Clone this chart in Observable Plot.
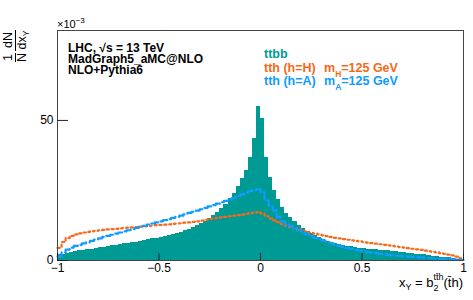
<!DOCTYPE html>
<html>
<head>
<meta charset="utf-8">
<script src="https://cdn.jsdelivr.net/npm/d3@7"></script>
<script src="https://cdn.jsdelivr.net/npm/@observablehq/plot@0.6"></script>
<style>
  html, body { margin: 0; padding: 0; background: #fff; }
  svg { display: block; }
</style>
</head>
<body>
<div id="chart"></div>
<script>
// ---- data ----
const binLow = -1, binWidth = 0.02;           // 100 bins on [-1, 1]
const ttbb = [
  2.0,2.3,2.6,2.9,3.1,3.4,3.6,3.8,4.0,4.3,4.5,4.8,5.0,5.2,5.4,5.6,5.9,6.1,6.3,6.6,
  6.8,7.1,7.4,7.7,8.0,8.3,8.6,8.9,9.3,9.7,10.1,10.6,11.2,11.8,12.5,13.3,14.0,14.9,16.0,17.3,
  18.4,20.0,22.0,24.0,26.4,29.2,32.1,36.7,43.6,55.0,
  50.7,36.8,29.8,25.0,21.8,19.0,16.9,15.5,14.0,12.5,11.3,10.5,9.5,8.9,8.1,7.4,6.9,6.4,6.0,5.7,
  5.4,5.1,4.9,4.6,4.4,4.2,4.0,3.9,3.8,3.6,3.5,3.4,3.2,3.1,2.9,2.8,2.6,2.5,2.3,2.2,
  2.0,1.8,1.6,1.4,1.2,1.0,0.9,0.7,0.5,0.3
];
const tthH = [
  4.5,6.6,8.0,8.8,9.3,9.7,10.0,10.2,10.4,10.6,10.8,10.9,11.1,11.2,11.3,11.5,11.6,11.7,11.8,11.9,
  12.1,12.2,12.3,12.5,12.6,12.7,12.8,12.9,13.1,13.2,13.3,13.5,13.6,13.8,14.0,14.2,14.5,14.8,15.0,15.2,
  15.4,15.6,15.8,16.0,16.2,16.4,16.6,16.9,17.1,17.3,
  16.8,15.8,15.0,14.3,13.7,13.0,12.4,11.9,11.4,11.0,10.6,10.2,9.9,9.6,9.3,9.0,8.7,8.4,8.1,7.9,
  7.6,7.4,7.2,7.0,6.8,6.6,6.4,6.2,6.0,5.8,5.6,5.4,5.2,5.0,4.8,4.6,4.4,4.2,4.0,3.8,
  3.5,3.3,3.1,2.9,2.6,2.4,2.1,1.8,1.4,0.8
];
const tthA = [
  1.5,2.9,3.9,4.6,5.2,5.6,6.1,6.5,7.0,7.5,7.9,8.4,8.8,9.2,9.6,10.0,10.4,10.8,11.2,11.6,
  12.0,12.4,12.8,13.2,13.6,14.0,14.4,14.8,15.2,15.6,16.0,16.5,17.0,17.4,17.8,18.3,18.8,19.3,19.8,20.3,
  20.8,21.3,21.8,22.4,23.0,23.6,24.2,24.8,25.2,25.4,
  24.4,21.4,19.6,17.9,15.5,14.0,13.0,12.3,11.4,10.7,9.9,9.3,8.7,8.1,7.6,7.1,6.6,6.1,5.6,5.2,
  4.8,4.4,4.1,3.8,3.5,3.2,3.0,2.8,2.6,2.4,2.2,2.0,1.8,1.7,1.6,1.5,1.4,1.3,1.2,1.1,
  1.0,0.9,0.8,0.7,0.6,0.55,0.5,0.4,0.3,0.2
];
const xTicks = [-1, -0.5, 0, 0.5, 1];
const xTickLabels = ["\u22121", "\u22120.5", "0", "0.5", "1"];
const yTicks = [0, 50];
const yMax = 82.1;
const infoLines = ["LHC, \u221As = 13 TeV", "MadGraph5_aMC@NLO", "NLO+Pythia6"];
const legendNames = ["ttbb", "tth (h=H)", "tth (h=A)"];
const legendMass = [null, ["m", "H", "=125 GeV"], ["m", "A", "=125 GeV"]];
const colors = ["#009a94", "#f8681a", "#0f9bff"];

// ---- build tables ----
const edges = ttbb.map((_, i) => binLow + i * binWidth);
const ttbbRows = ttbb.map((v, i) => ({x1: edges[i], x2: edges[i] + binWidth, v}));
const stepRows = vals => vals.map((v, i) => ({x: edges[i], v})).concat([{x: edges[vals.length - 1] + binWidth, v: vals[vals.length - 1]}]);

const font = "'Liberation Sans', Arial, Helvetica, sans-serif";

const chart = Plot.plot({
  width: 473, height: 300,
  marginLeft: 57, marginRight: 10, marginTop: 30, marginBottom: 40,
  x: {domain: [-1, 1], label: null},
  y: {domain: [0, yMax], label: null},
  style: {fontFamily: font, fontSize: "12px", background: "white", color: "#000"},
  marks: [
    Plot.rectY(ttbbRows, {x1: "x1", x2: "x2", y: "v", fill: colors[0], shapeRendering: "crispEdges"}),
    Plot.line(stepRows(tthH), {x: "x", y: "v", curve: "step-after", stroke: colors[1], strokeWidth: 2.2, strokeDasharray: "2.2,3"}),
    Plot.line(stepRows(tthA), {x: "x", y: "v", curve: "step-after", stroke: colors[2], strokeWidth: 2.2, strokeDasharray: "8,3.5"}),
    Plot.frame({stroke: "#444", strokeWidth: 1}),
    Plot.ruleX(xTicks, {y1: 0, y2: yMax * 0.03, stroke: "#222"}),
    Plot.ruleY(yTicks, {x1: -1, x2: -1 + 2 * 0.027, stroke: "#222"}),
    Plot.axisX({ticks: xTicks, tickSize: 0, tickPadding: 3, tickFormat: (d, i) => xTickLabels[i], fontSize: 12}),
    Plot.axisY({ticks: yTicks, tickSize: 0, tickPadding: 4, fontSize: 12})
  ]
});
document.getElementById("chart").appendChild(chart);

const svg = d3.select(chart);
const g = svg.append("g").attr("font-family", font).attr("text-anchor", "start");

// x10^-3 exponent
const ex = g.append("text").attr("x", 57).attr("y", 28).attr("font-size", 11).text("\u00d710");
ex.append("tspan").attr("font-size", 8).attr("dy", -5).text("\u22123");

// info lines (bold)
infoLines.forEach((t, i) => {
  g.append("text").attr("x", 68).attr("y", 52 + i * 11).attr("font-size", 12).attr("font-weight", "bold").text(t);
});

// legend texts
legendNames.forEach((t, i) => {
  g.append("text").attr("x", 264).attr("y", 58 + i * 13.5).attr("font-size", 12.5).attr("font-weight", "bold")
    .attr("fill", colors[i]).text(t);
  const m = legendMass[i];
  if (m) {
    const tx = g.append("text").attr("x", 324).attr("y", 58 + i * 13.5).attr("font-size", 12.5).attr("font-weight", "bold")
      .attr("fill", colors[i]);
    tx.append("tspan").text(m[0]);
    tx.append("tspan").attr("font-size", 8.5).attr("dy", 5).text(m[1]);
    tx.append("tspan").attr("dy", -5).text(m[2]);
  }
});

// y-axis title: (1/N) dN/dx_Y rotated
const yl = g.append("g").attr("font-size", 12.5).attr("text-anchor", "middle");
yl.append("text").attr("transform", "translate(12,57.5) rotate(-90)").text("1");
yl.append("text").attr("transform", "translate(26,57.5) rotate(-90)").text("N");
yl.append("line").attr("x1", 15.5).attr("x2", 15.5).attr("y1", 53).attr("y2", 62).attr("stroke", "#000").attr("stroke-width", 1);
yl.append("text").attr("transform", "translate(12,40) rotate(-90)").text("dN");
const dx = yl.append("text").attr("transform", "translate(26,40) rotate(-90)");
dx.append("tspan").text("dx");
dx.append("tspan").attr("font-size", 8.5).attr("dy", 3).text("Y");
yl.append("line").attr("x1", 15.5).attr("x2", 15.5).attr("y1", 30).attr("y2", 51).attr("stroke", "#000").attr("stroke-width", 1);

// x-axis title: x_Y = b_2^{tt̄h}(t̄h)
const xt = g.append("text").attr("x", 463).attr("y", 287).attr("text-anchor", "end").attr("font-size", 13);
xt.append("tspan").text("x");
xt.append("tspan").attr("font-size", 9).attr("dy", 3).text("Y");
xt.append("tspan").attr("dy", -3).text(" = b");
xt.append("tspan").attr("font-size", 9).attr("dy", 4).text("2");
xt.append("tspan").attr("font-size", 9).attr("dx", -5).attr("dy", -11).text("tt\u0304h");
xt.append("tspan").attr("dy", 7).text("(t\u0304h)");
</script>
</body>
</html>
